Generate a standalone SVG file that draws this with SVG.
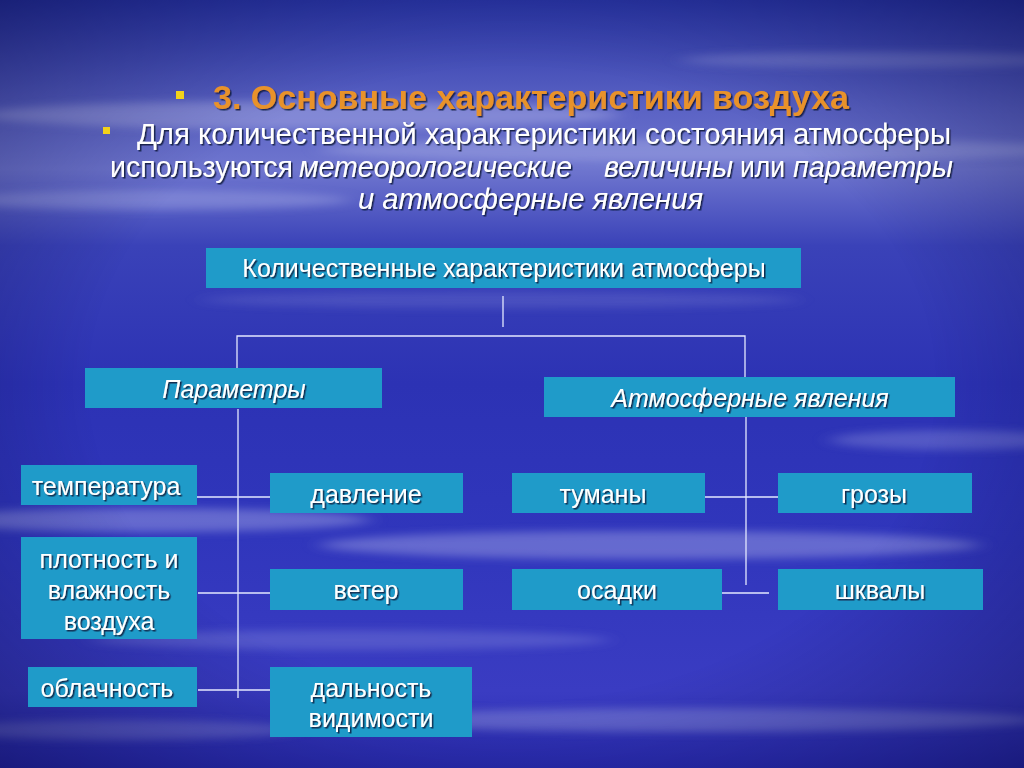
<svg xmlns="http://www.w3.org/2000/svg" width="1024" height="768" viewBox="0 0 1024 768">
<defs>
<linearGradient id="bg" x1="0" y1="0" x2="0" y2="1">
<stop offset="0" stop-color="#2a36a6"/>
<stop offset="0.14" stop-color="#5a62c4"/>
<stop offset="0.22" stop-color="#6f76cf"/>
<stop offset="0.32" stop-color="#3a42b8"/>
<stop offset="0.5" stop-color="#2c32b4"/>
<stop offset="0.7" stop-color="#3036bc"/>
<stop offset="0.9" stop-color="#3a3cc2"/>
<stop offset="1" stop-color="#2a2cb0"/>
</linearGradient>
<radialGradient id="vig" cx="0.5" cy="0.5" r="0.75">
<stop offset="0.55" stop-color="#000030" stop-opacity="0"/>
<stop offset="1" stop-color="#000030" stop-opacity="0.45"/>
</radialGradient>
<filter id="blur" x="-20%" y="-200%" width="140%" height="500%"><feGaussianBlur stdDeviation="10 4"/></filter>
<filter id="sh" x="-5%" y="-20%" width="110%" height="150%"><feDropShadow dx="1.5" dy="1.5" stdDeviation="0.6" flood-color="#10143a" flood-opacity="0.85"/></filter>
<style>
.box{fill:#1f9bc9;}
.lbl{font-family:"Liberation Sans",Arial,sans-serif;font-size:25px;fill:#ffffff;text-anchor:middle;filter:url(#sh);}
.it{font-style:italic;}
.hd{font-family:"Liberation Sans Narrow","Liberation Sans",Arial,sans-serif;font-size:30px;fill:#ffffff;filter:url(#sh);}
.ttl{font-family:"Liberation Sans Narrow","Liberation Sans",Arial,sans-serif;font-size:33px;font-weight:bold;fill:#e8922c;filter:url(#sh);}
.ln{stroke:#e4e8ff;stroke-width:1.3;fill:none;}
.blt{fill:#f2d21a;}
</style>
</defs>
<g id="background">
<rect width="1024" height="768" fill="url(#bg)"/>
<g filter="url(#blur)" fill="#c8ccf4">
<ellipse cx="300" cy="115" rx="320" ry="14" opacity="0.35"/>
<ellipse cx="700" cy="150" rx="380" ry="12" opacity="0.3"/>
<ellipse cx="150" cy="200" rx="200" ry="10" opacity="0.3"/>
<ellipse cx="880" cy="60" rx="200" ry="8" opacity="0.25"/>
<ellipse cx="500" cy="300" rx="300" ry="8" opacity="0.15"/>
<ellipse cx="150" cy="520" rx="220" ry="12" opacity="0.35"/>
<ellipse cx="650" cy="545" rx="330" ry="14" opacity="0.35"/>
<ellipse cx="950" cy="440" rx="120" ry="10" opacity="0.25"/>
<ellipse cx="350" cy="640" rx="260" ry="10" opacity="0.2"/>
<ellipse cx="700" cy="720" rx="340" ry="12" opacity="0.3"/>
<ellipse cx="120" cy="730" rx="180" ry="10" opacity="0.25"/>
</g>
<rect width="1024" height="768" fill="url(#vig)"/>
</g>
<g id="header">
<rect class="blt" x="176" y="91" width="8" height="8"/>
<text class="ttl" x="213" y="109" textLength="636" lengthAdjust="spacingAndGlyphs">3. Основные характеристики воздуха</text>
<rect class="blt" x="103" y="127" width="7" height="7"/>
<text class="hd" x="137" y="144" textLength="814" lengthAdjust="spacingAndGlyphs">Для количественной характеристики состояния атмосферы</text>
<text class="hd" y="177"><tspan x="110" textLength="183" lengthAdjust="spacingAndGlyphs">используются</tspan><tspan class="it" x="299" textLength="273" lengthAdjust="spacingAndGlyphs">метеорологические</tspan><tspan class="it" x="604" textLength="129" lengthAdjust="spacingAndGlyphs">величины</tspan><tspan x="740" textLength="45" lengthAdjust="spacingAndGlyphs">или</tspan><tspan class="it" x="793" textLength="160" lengthAdjust="spacingAndGlyphs">параметры</tspan></text>
<text class="hd it" x="358" y="209" textLength="345" lengthAdjust="spacingAndGlyphs">и атмосферные  явления</text>
</g>
<g id="connectors">
<line class="ln" x1="503" y1="296" x2="503" y2="327"/>
<polyline class="ln" points="237,368 237,336 745,336 745,377"/>
<line class="ln" x1="238" y1="409" x2="238" y2="698"/>
<line class="ln" x1="746" y1="417" x2="746" y2="585"/>
<line class="ln" x1="190" y1="497" x2="286" y2="497"/>
<line class="ln" x1="198" y1="593" x2="278" y2="593"/>
<line class="ln" x1="198" y1="690" x2="278" y2="690"/>
<line class="ln" x1="705" y1="497" x2="778" y2="497"/>
<line class="ln" x1="722" y1="593" x2="769" y2="593"/>
</g>
<g id="n-top"><rect class="box" x="206" y="248" width="595" height="40"/><text class="lbl" x="504" y="277" font-size="24">Количественные характеристики атмосферы</text></g>
<g id="n-params"><rect class="box" x="85" y="368" width="297" height="40"/><text class="lbl it" x="234" y="398">Параметры</text></g>
<g id="n-phen"><rect class="box" x="544" y="377" width="411" height="40"/><text class="lbl it" x="750" y="407">Атмосферные  явления</text></g>
<g id="n-temp"><rect class="box" x="21" y="465" width="176" height="40"/><text class="lbl" x="106" y="495">температура</text></g>
<g id="n-dens"><rect class="box" x="21" y="537" width="176" height="102"/><text class="lbl"><tspan x="109" y="568">плотность и</tspan><tspan x="109" y="599">влажность</tspan><tspan x="109" y="630">воздуха</tspan></text></g>
<g id="n-cloud"><rect class="box" x="28" y="667" width="169" height="40"/><text class="lbl" x="107" y="697">облачность</text></g>
<g id="n-press"><rect class="box" x="270" y="473" width="193" height="40"/><text class="lbl" x="366" y="503">давление</text></g>
<g id="n-wind"><rect class="box" x="270" y="569" width="193" height="41"/><text class="lbl" x="366" y="599">ветер</text></g>
<g id="n-vis"><rect class="box" x="270" y="667" width="202" height="70"/><text class="lbl"><tspan x="371" y="697">дальность</tspan><tspan x="371" y="727">видимости</tspan></text></g>
<g id="n-fog"><rect class="box" x="512" y="473" width="193" height="40"/><text class="lbl" x="603" y="503">туманы</text></g>
<g id="n-storm"><rect class="box" x="778" y="473" width="194" height="40"/><text class="lbl" x="874" y="503">грозы</text></g>
<g id="n-precip"><rect class="box" x="512" y="569" width="210" height="41"/><text class="lbl" x="617" y="599">осадки</text></g>
<g id="n-squall"><rect class="box" x="778" y="569" width="205" height="41"/><text class="lbl" x="880" y="599">шквалы</text></g>
</svg>
